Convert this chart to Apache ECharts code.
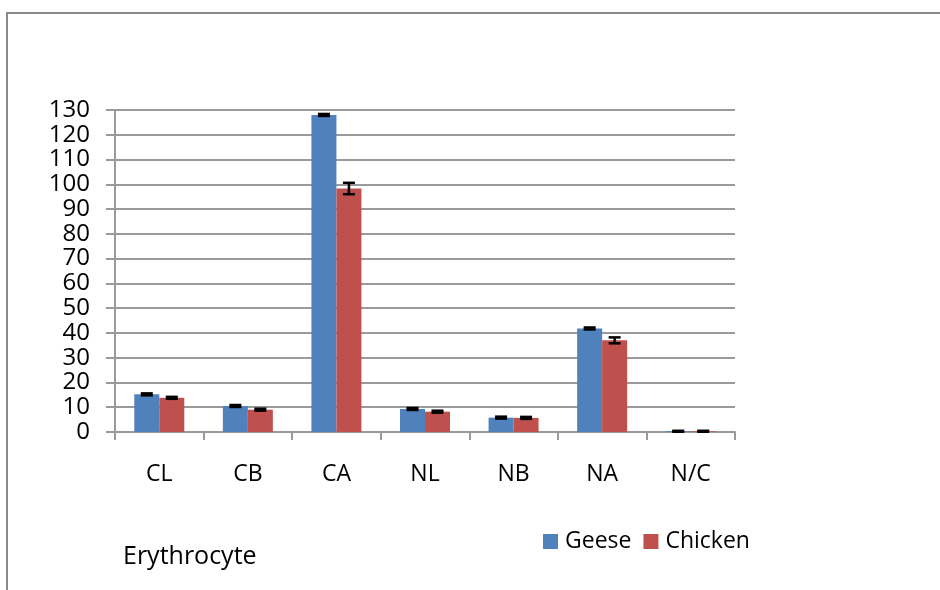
<!DOCTYPE html>
<html>
<head>
<meta charset="utf-8">
<script src="https://cdn.jsdelivr.net/npm/echarts@6/dist/echarts.min.js"></script>
<style>
  html, body { margin: 0; padding: 0; background: #fff; }
  #chart { width: 940px; height: 590px; }
</style>
</head>
<body>
<div id="chart"></div>
<script>
const categories = ['CL', 'CB', 'CA', 'NL', 'NB', 'NA', 'N/C'];
const geese = [15.2, 10.5, 128.0, 9.3, 5.8, 41.8, 0.3];
const geeseErr = [0.4, 0.4, 0.4, 0.4, 0.4, 0.4, 0.2];
const chicken = [13.8, 9.0, 98.3, 8.2, 5.7, 37.0, 0.3];
const chickenErr = [0.4, 0.4, 2.3, 0.4, 0.4, 1.2, 0.2];

const font = '"Open Sans", "Liberation Sans", sans-serif';
const gridColor = '#9a9a9a';

function errorSeries(name, values, errs, offset) {
  return {
    type: 'custom',
    name: name + ' err',
    z: 5,
    silent: true,
    data: values.map((v, i) => [i, v - errs[i], v + errs[i]]),
    renderItem(params, api) {
      const lo = api.coord([api.value(0), api.value(1)]);
      const hi = api.coord([api.value(0), api.value(2)]);
      const x = lo[0] + offset;
      const cap = 6;
      const style = { stroke: '#000', lineWidth: 2.5 };
      return {
        type: 'group',
        children: [
          { type: 'line', shape: { x1: x, y1: lo[1], x2: x, y2: hi[1] }, style },
          { type: 'line', shape: { x1: x - cap, y1: lo[1], x2: x + cap, y2: lo[1] }, style },
          { type: 'line', shape: { x1: x - cap, y1: hi[1], x2: x + cap, y2: hi[1] }, style }
        ]
      };
    }
  };
}

const chart = echarts.init(document.getElementById('chart'));
chart.setOption({
  animation: false,
  backgroundColor: '#fff',
  textStyle: { fontFamily: font, color: '#000' },
  grid: { left: 115, right: 205, top: 110, bottom: 158 },
  legend: {
    left: 543,
    top: 530,
    padding: 0,
    itemWidth: 15,
    itemHeight: 15,
    itemGap: 12,
    icon: 'rect',
    data: ['Geese', 'Chicken'],
    textStyle: { fontSize: 23, fontFamily: font, color: '#000', padding: [0, 0, 0, 2] }
  },
  xAxis: {
    type: 'category',
    data: categories,
    axisLine: { lineStyle: { color: gridColor, width: 2 } },
    axisTick: { show: true, length: 8, lineStyle: { color: gridColor, width: 2 } },
    axisLabel: { color: '#000', fontSize: 23, margin: 31, fontFamily: font }
  },
  yAxis: {
    type: 'value',
    min: 0,
    max: 130,
    interval: 10,
    axisLine: { show: true, lineStyle: { color: gridColor, width: 2 } },
    axisTick: { show: true, length: 9, lineStyle: { color: gridColor, width: 2 } },
    axisLabel: { color: '#000', fontSize: 24, margin: 25, fontFamily: font },
    splitLine: { lineStyle: { color: gridColor, width: 2 } }
  },
  series: [
    {
      name: 'Geese',
      type: 'bar',
      data: geese,
      barWidth: 25,
      barGap: '0%',
      itemStyle: { color: '#4f81bd' }
    },
    {
      name: 'Chicken',
      type: 'bar',
      data: chicken,
      barWidth: 25,
      barGap: '0%',
      itemStyle: { color: '#c0504d' }
    },
    errorSeries('Geese', geese, geeseErr, -12.5),
    errorSeries('Chicken', chicken, chickenErr, 12.5)
  ],
  graphic: [
    {
      type: 'rect',
      shape: { x: 7, y: 13, width: 1000, height: 700 },
      style: { fill: 'none', stroke: '#8a8a8a', lineWidth: 2 },
      silent: true
    },
    {
      type: 'text',
      left: 123,
      top: 544,
      style: { text: 'Erythrocyte', fontSize: 25, fontFamily: font, fill: '#000' }
    }
  ]
});
</script>
</body>
</html>
